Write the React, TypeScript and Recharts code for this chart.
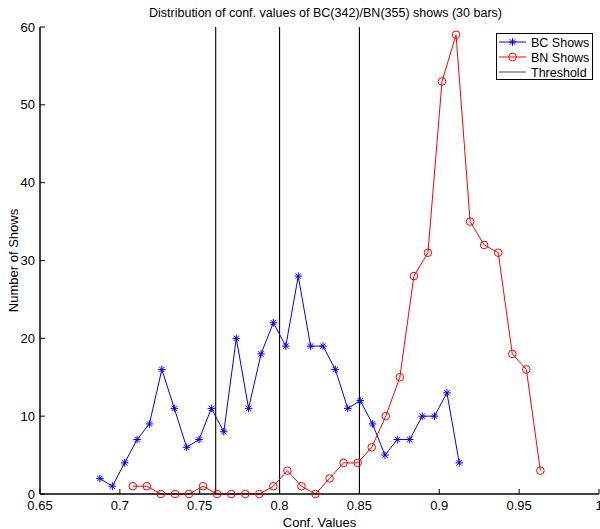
import React from 'react';
import {
  LineChart,
  Line,
  XAxis,
  YAxis,
  ReferenceLine,
  Legend,
  Label,
} from 'recharts';

// bin centres and counts
const bcX = [
  0.6875, 0.6953, 0.703, 0.7108, 0.7185, 0.7263, 0.7341, 0.7418, 0.7496, 0.7573,
  0.7651, 0.7729, 0.7806, 0.7884, 0.7961, 0.8039, 0.8117, 0.8194, 0.8272, 0.8349,
  0.8427, 0.8505, 0.8582, 0.866, 0.8737, 0.8815, 0.8893, 0.897, 0.9048, 0.9125,
];
const bcCount = [
  2, 1, 4, 7, 9, 16, 11, 6, 7, 11, 8, 20, 11, 18, 22, 19, 28, 19, 19, 16, 11, 12,
  9, 5, 7, 7, 10, 10, 13, 4,
];

const bnX = [
  0.7081, 0.7169, 0.7257, 0.7345, 0.7433, 0.7521, 0.7609, 0.7697, 0.7785, 0.7873,
  0.7961, 0.8049, 0.8137, 0.8225, 0.8313, 0.8401, 0.8489, 0.8577, 0.8665, 0.8753,
  0.8841, 0.8929, 0.9017, 0.9105, 0.9193, 0.9281, 0.9369, 0.9457, 0.9545, 0.9633,
];
const bnCount = [
  1, 1, 0, 0, 0, 1, 0, 0, 0, 0, 1, 3, 1, 0, 2, 4, 4, 6, 10, 15, 28, 31, 53, 59,
  35, 32, 31, 18, 16, 3,
];

const thresholds = [0.76, 0.8, 0.85];
const xTicks = [0.65, 0.7, 0.75, 0.8, 0.85, 0.9, 0.95, 1];
const yTicks = [0, 10, 20, 30, 40, 50, 60];

const bcData = bcX.map((x, i) => ({ x, count: bcCount[i] }));
const bnData = bnX.map((x, i) => ({ x, count: bnCount[i] }));

const FONT = '"Liberation Sans", Arial, Helvetica, sans-serif';
const TICK_LEN = 5;

// MATLAB style ticks: short marks pointing into the plot box
const BottomTick = (props: any) => {
  const { x, y, payload } = props;
  return (
    <g>
      <line x1={x} y1={y} x2={x} y2={y - TICK_LEN} stroke="#000" />
      <text x={x} y={y + 15.5} textAnchor="middle" fontSize={13} fontFamily={FONT} fill="#000">
        {String(payload.value)}
      </text>
    </g>
  );
};

const TopTick = (props: any) => {
  const { x, y } = props;
  return <line x1={x} y1={y} x2={x} y2={y + TICK_LEN} stroke="#000" />;
};

const LeftTick = (props: any) => {
  const { x, y, payload } = props;
  return (
    <g>
      <line x1={x} y1={y} x2={x + TICK_LEN} y2={y} stroke="#000" />
      <text x={x - 5} y={y + 4.5} textAnchor="end" fontSize={13} fontFamily={FONT} fill="#000">
        {String(payload.value)}
      </text>
    </g>
  );
};

const RightTick = (props: any) => {
  const { x, y } = props;
  return <line x1={x} y1={y} x2={x - TICK_LEN} y2={y} stroke="#000" />;
};

const StarDot = (props: any) => {
  const { cx, cy, key } = props;
  if (cx == null || cy == null) return null;
  const s = 3.8;
  const d = 2.7;
  return (
    <g key={key} stroke="#0000ff" strokeWidth={1}>
      <line x1={cx - s} y1={cy} x2={cx + s} y2={cy} />
      <line x1={cx} y1={cy - s} x2={cx} y2={cy + s} />
      <line x1={cx - d} y1={cy - d} x2={cx + d} y2={cy + d} />
      <line x1={cx - d} y1={cy + d} x2={cx + d} y2={cy - d} />
    </g>
  );
};

const LegendBox = () => (
  <div
    style={{
      border: '1.5px solid #000',
      background: '#fff',
      width: 97,
      height: 47,
      fontFamily: FONT,
      boxSizing: 'border-box',
    }}
  >
    <svg width={94} height={44} style={{ display: 'block' }}>
      <line x1={2} y1={8} x2={29} y2={8} stroke="#0000ff" />
      <StarDot cx={15.5} cy={8} />
      <text x={34} y={12.5} fontSize={12.5} fontFamily={FONT}>BC Shows</text>
      <line x1={2} y1={23} x2={29} y2={23} stroke="#ff0000" />
      <circle cx={15.5} cy={23} r={3.8} fill="none" stroke="#ff0000" />
      <text x={34} y={27.5} fontSize={12.5} fontFamily={FONT}>BN Shows</text>
      <line x1={2} y1={38} x2={29} y2={38} stroke="#444" />
      <text x={34} y={42.5} fontSize={12.5} fontFamily={FONT}>Threshold</text>
    </svg>
  </div>
);

export default function App() {
  return (
    <div style={{ position: 'absolute', left: 0, top: 0, width: 600, height: 529, background: '#fff' }}>
      <div
        style={{
          position: 'absolute',
          top: 5.5,
          left: 25.5,
          width: 600,
          textAlign: 'center',
          fontFamily: FONT,
          fontSize: 12.5,
          lineHeight: '14px',
          whiteSpace: 'nowrap',
        }}
      >
        Distribution of conf. values of BC(342)/BN(355) shows (30 bars)
      </div>
      <LineChart width={600} height={529} margin={{ top: 27, right: 1, bottom: 0, left: 0 }}>
        <XAxis
          xAxisId="b"
          dataKey="x"
          type="number"
          domain={[0.65, 1]}
          ticks={xTicks}
          allowDataOverflow
          height={35}
          tickSize={0}
          tickMargin={0}
          tickLine={false}
          tick={BottomTick}
          stroke="#000"
          strokeWidth={1.5}
          interval={0}
        >
          <Label
            value="Conf. Values"
            position="insideBottom"
            offset={2}
            style={{ fontSize: 13, fill: '#000', fontFamily: FONT }}
          />
        </XAxis>
        <XAxis
          xAxisId="t"
          dataKey="x"
          type="number"
          orientation="top"
          domain={[0.65, 1]}
          ticks={xTicks}
          allowDataOverflow
          height={0}
          tickSize={0}
          tickMargin={0}
          tickLine={false}
          tick={TopTick}
          stroke="#000"
          strokeWidth={1.5}
          interval={0}
        />
        <YAxis
          yAxisId="l"
          domain={[0, 60]}
          ticks={yTicks}
          width={40}
          tickSize={0}
          tickMargin={0}
          tickLine={false}
          tick={LeftTick}
          stroke="#000"
          strokeWidth={1.5}
          interval={0}
        >
          <Label
            value="Number of Shows"
            angle={-90}
            position="insideLeft"
            offset={13}
            style={{ fontSize: 13, fill: '#000', fontFamily: FONT, textAnchor: 'middle' }}
          />
        </YAxis>
        <YAxis
          yAxisId="r"
          orientation="right"
          domain={[0, 60]}
          ticks={yTicks}
          width={0}
          tickSize={0}
          tickMargin={0}
          tickLine={false}
          tick={RightTick}
          stroke="#000"
          strokeWidth={1.5}
          interval={0}
        />
        {thresholds.map((t) => (
          <ReferenceLine key={t} x={t} xAxisId="b" yAxisId="l" stroke="#000" strokeWidth={1.1} />
        ))}
        <Line
          data={bcData}
          dataKey="count"
          xAxisId="b"
          yAxisId="l"
          type="linear"
          stroke="#0000ff"
          strokeWidth={1}
          dot={StarDot}
          activeDot={false}
          isAnimationActive={false}
        />
        <Line
          data={bnData}
          dataKey="count"
          xAxisId="b"
          yAxisId="l"
          type="linear"
          stroke="#ff0000"
          strokeWidth={1}
          dot={{ r: 3.8, fill: 'none', stroke: '#ff0000', strokeWidth: 1 }}
          activeDot={false}
          isAnimationActive={false}
        />
        <Legend
          layout="horizontal"
          verticalAlign="middle"
          align="center"
          content={() => <LegendBox />}
          wrapperStyle={{ position: 'absolute', left: 496, top: 33, width: 97, height: 47 }}
        />
      </LineChart>
    </div>
  );
}
